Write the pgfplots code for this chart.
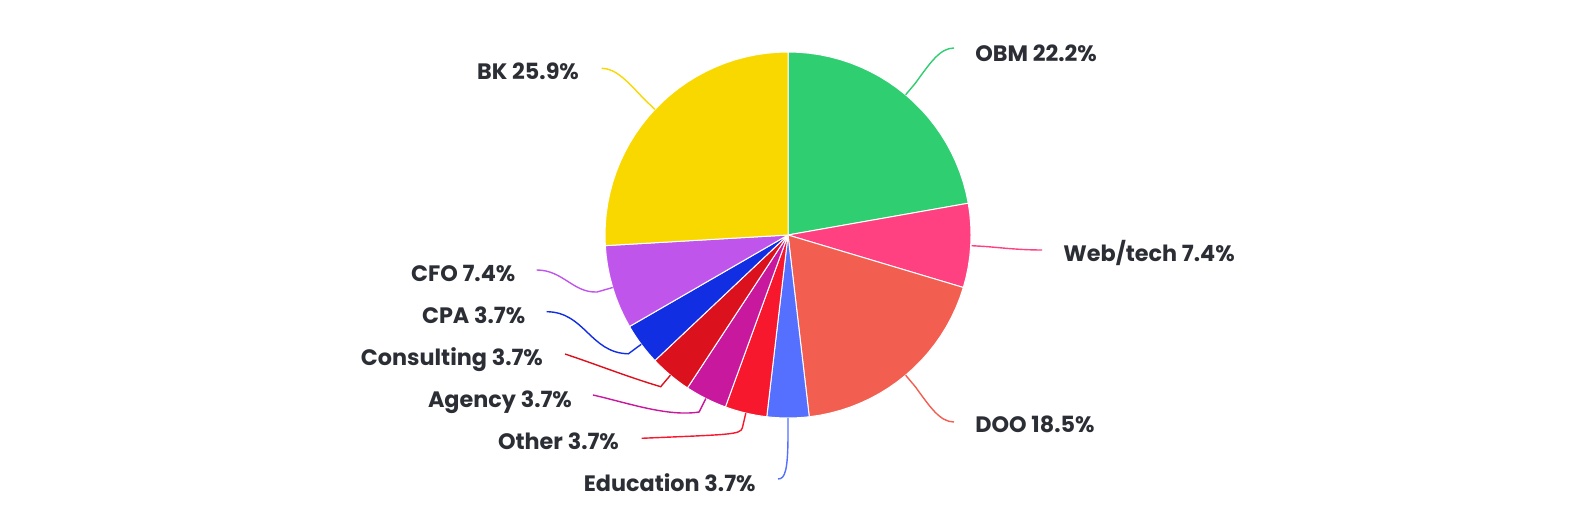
\documentclass[border=0pt]{standalone}
\usepackage{fontspec}
\setmainfont{Poppins}
\usepackage{pgfplots}
\pgfplotsset{compat=1.18}
\definecolor{cOBM}{RGB}{46,206,113}
\definecolor{cWeb}{RGB}{255,64,129}
\definecolor{cDOO}{RGB}{242,94,80}
\definecolor{cEdu}{RGB}{85,112,255}
\definecolor{cOth}{RGB}{247,24,46}
\definecolor{cAge}{RGB}{200,24,158}
\definecolor{cCon}{RGB}{220,17,30}
\definecolor{cCPA}{RGB}{18,46,227}
\definecolor{cCFO}{RGB}{192,85,236}
\definecolor{cBK}{RGB}{249,216,0}
\definecolor{txt}{RGB}{44,46,53}
\begin{document}
\begin{tikzpicture}[
  lab/.style={font=\bfseries\fontsize{11.2}{13}\selectfont, text=txt, inner sep=0pt},
  ll/.style={line width=0.7bp},
]
\begin{axis}[
  width=788.5bp, height=263.5bp, scale only axis,
  xmin=-788, xmax=789, ymin=-292, ymax=235,
  axis lines=none, clip=false,
  every axis plot/.append style={data cs=polar, draw=white, line width=0.5bp, line join=round},
]
\path (rel axis cs:0,0) rectangle (rel axis cs:1,1);
% OBM 22.2% (6/27): 90 -> 10
\addplot[fill=cOBM] coordinates {(0,0) (90,183) (86.667,183) (83.333,183) (80,183) (76.667,183) (73.333,183) (70,183) (66.667,183) (63.333,183) (60,183) (56.667,183) (53.333,183) (50,183) (46.667,183) (43.333,183) (40,183) (36.667,183) (33.333,183) (30,183) (26.667,183) (23.333,183) (20,183) (16.667,183) (13.333,183) (10,183) (0,0)};
% Web/tech 7.4% (2/27): 10 -> -16.667
\addplot[fill=cWeb] coordinates {(0,0) (10,183) (6.667,183) (3.333,183) (0,183) (-3.333,183) (-6.667,183) (-10,183) (-13.333,183) (-16.667,183) (0,0)};
% DOO 18.5% (5/27): -16.667 -> -83.333
\addplot[fill=cDOO] coordinates {(0,0) (-16.667,183) (-20,183) (-23.333,183) (-26.667,183) (-30,183) (-33.333,183) (-36.667,183) (-40,183) (-43.333,183) (-46.667,183) (-50,183) (-53.333,183) (-56.667,183) (-60,183) (-63.333,183) (-66.667,183) (-70,183) (-73.333,183) (-76.667,183) (-80,183) (-83.333,183) (0,0)};
% Education 3.7%
\addplot[fill=cEdu] coordinates {(0,0) (-83.333,183) (-85,183) (-86.667,183) (-88.333,183) (-90,183) (-91.667,183) (-93.333,183) (-95,183) (-96.667,183) (0,0)};
% Other 3.7%
\addplot[fill=cOth] coordinates {(0,0) (-96.667,183) (-98.333,183) (-100,183) (-101.667,183) (-103.333,183) (-105,183) (-106.667,183) (-108.333,183) (-110,183) (0,0)};
% Agency 3.7%
\addplot[fill=cAge] coordinates {(0,0) (-110,183) (-111.667,183) (-113.333,183) (-115,183) (-116.667,183) (-118.333,183) (-120,183) (-121.667,183) (-123.333,183) (0,0)};
% Consulting 3.7%
\addplot[fill=cCon] coordinates {(0,0) (-123.333,183) (-125,183) (-126.667,183) (-128.333,183) (-130,183) (-131.667,183) (-133.333,183) (-135,183) (-136.667,183) (0,0)};
% CPA 3.7%
\addplot[fill=cCPA] coordinates {(0,0) (-136.667,183) (-138.333,183) (-140,183) (-141.667,183) (-143.333,183) (-145,183) (-146.667,183) (-148.333,183) (-150,183) (0,0)};
% CFO 7.4%
\addplot[fill=cCFO] coordinates {(0,0) (-150,183) (-153.333,183) (-156.667,183) (-160,183) (-163.333,183) (-166.667,183) (-170,183) (-173.333,183) (-176.667,183) (0,0)};
% BK 25.9% (7/27): -176.667 -> -270
\addplot[fill=cBK] coordinates {(0,0) (-176.667,183) (-180,183) (-183.333,183) (-186.667,183) (-190,183) (-193.333,183) (-196.667,183) (-200,183) (-203.333,183) (-206.667,183) (-210,183) (-213.333,183) (-216.667,183) (-220,183) (-223.333,183) (-226.667,183) (-230,183) (-233.333,183) (-236.667,183) (-240,183) (-243.333,183) (-246.667,183) (-250,183) (-253.333,183) (-256.667,183) (-260,183) (-263.333,183) (-266.667,183) (-270,183) (0,0)};

% leader lines
\draw[ll,cOBM] (axis cs:117.6,140.2) -- (axis cs:127.3,151.7) .. controls (axis cs:142,172) and (axis cs:152,187) .. (axis cs:166,187);
\draw[ll,cWeb] (axis cs:183.7,-10.7) -- (axis cs:199,-11.6) .. controls (axis cs:220,-13.5) and (axis cs:235,-15) .. (axis cs:254,-15);
\draw[ll,cDOO] (axis cs:117.6,-140.2) -- (axis cs:127.3,-151.7) .. controls (axis cs:142,-172) and (axis cs:152,-187) .. (axis cs:166,-187);
\draw[ll,cEdu] (axis cs:0,-183) -- (axis cs:0,-198) .. controls (axis cs:0,-236) and (axis cs:-3,-244) .. (axis cs:-10,-244);
\draw[ll,cOth] (axis cs:-42.2,-178.1) -- (axis cs:-45.6,-192.7) .. controls (axis cs:-47,-200) and (axis cs:-60,-199.5) .. (axis cs:-146.3,-203.3);
\draw[ll,cAge] (axis cs:-82.1,-163.5) -- (axis cs:-88.9,-177) .. controls (axis cs:-120,-182) and (axis cs:-160,-168) .. (axis cs:-195,-160);
\draw[ll,cCon] (axis cs:-117.6,-140.2) -- (axis cs:-127.3,-151.7) .. controls (axis cs:-160,-142) and (axis cs:-190,-130) .. (axis cs:-223,-119);
\draw[ll,cCPA] (axis cs:-146.8,-109.3) -- (axis cs:-159.6,-118.8) .. controls (axis cs:-198,-118) and (axis cs:-203,-77) .. (axis cs:-241.3,-76.7);
\draw[ll,cCFO] (axis cs:-175.3,-52.5) -- (axis cs:-191,-57) .. controls (axis cs:-215,-58) and (axis cs:-225,-35) .. (axis cs:-251.3,-35);
\draw[ll,cBK] (axis cs:-133.1,125.6) -- (axis cs:-144,136) .. controls (axis cs:-160,153) and (axis cs:-172,166.7) .. (axis cs:-186.3,166.7);

% labels
\node[lab,anchor=base west] at (axis cs:187,173) {OBM 22.2\%};
\node[lab,anchor=base west] at (axis cs:275,-27) {Web/tech 7.4\%};
\node[lab,anchor=base west] at (axis cs:187,-198) {DOO 18.5\%};
\node[lab,anchor=base east] at (axis cs:-32,-256.7) {Education 3.7\%};
\node[lab,anchor=base east] at (axis cs:-168.7,-215) {Other 3.7\%};
\node[lab,anchor=base east] at (axis cs:-215.7,-172.3) {Agency 3.7\%};
\node[lab,anchor=base east] at (axis cs:-244.7,-131) {Consulting 3.7\%};
\node[lab,anchor=base east] at (axis cs:-262.3,-88.3) {CPA 3.7\%};
\node[lab,anchor=base east] at (axis cs:-272.3,-46.7) {CFO 7.4\%};
\node[lab,anchor=base east] at (axis cs:-208.7,155) {BK 25.9\%};
\end{axis}
\end{tikzpicture}
\end{document}
